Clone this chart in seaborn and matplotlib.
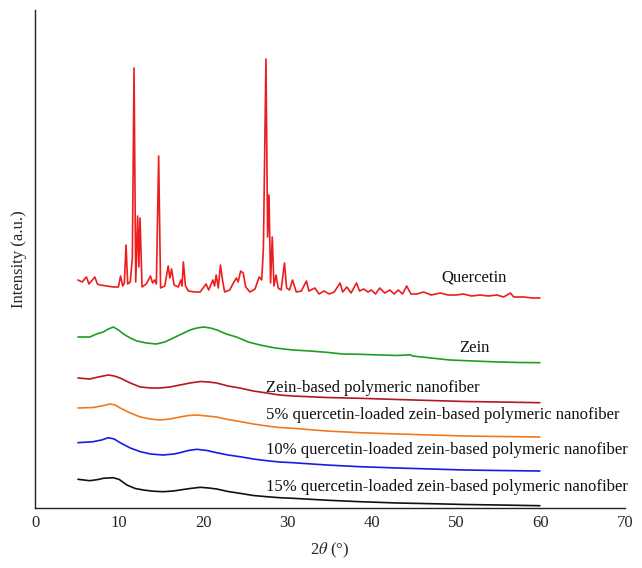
import numpy as np
import pandas as pd
import matplotlib
matplotlib.use("Agg")
import matplotlib.pyplot as plt
import seaborn as sns

# XRD patterns (2theta in degrees, intensity in arbitrary units)
quercetin_2t = [5.1, 5.6, 6.1, 6.4, 7.1, 7.4, 7.7, 8.5, 9.3, 9.9, 10.15, 10.4, 10.6, 10.8, 11.0,
                11.3, 11.55, 11.75, 11.95, 12.18, 12.32, 12.46, 12.7, 13.2, 13.7, 13.95, 14.2,
                14.4, 14.67, 14.9, 15.4, 15.8, 16.0, 16.2, 16.5, 17.0, 17.3, 17.45, 17.6, 17.85,
                18.2, 19.0, 19.6, 20.3, 20.6, 21.1, 21.3, 21.5, 21.75, 22.0, 22.25, 22.5, 23.1,
                23.6, 23.9, 24.1, 24.4, 24.7, 25.0, 25.5, 26.1, 26.6, 26.9, 27.1, 27.4, 27.6,
                27.76, 27.95, 28.15, 28.35, 28.6, 28.85, 29.2, 29.6, 29.85, 30.2, 30.55, 31.0,
                31.6, 32.2, 32.5, 33.2, 33.7, 34.3, 34.9, 35.5, 36.2, 36.5, 37.0, 37.5, 38.15,
                38.5, 39.0, 39.5, 39.9, 40.4, 40.9, 41.5, 42.1, 42.6, 43.1, 43.6, 44.1, 44.6,
                45.3, 46.1, 47.0, 48.1, 49.0, 50.0, 50.8, 51.8, 52.8, 53.8, 54.8, 55.6, 56.4,
                56.8, 58.0, 59.0, 59.9]
quercetin_i = [228, 226, 231, 224, 231, 224, 223, 222, 221, 221, 232, 222, 225, 263, 224,
               226, 250, 440, 226, 292, 241, 290, 221, 224, 232, 225, 228,
               224, 352, 220, 222, 242, 230, 239, 223, 221, 228, 222, 246, 222,
               217, 216, 216, 224, 218, 228, 222, 233, 220, 243, 228, 216, 218,
               226, 230, 226, 237, 235, 221, 216, 219, 231, 228, 260, 449, 271,
               313, 225, 271, 222, 233, 220, 218, 245, 220, 218, 228, 216,
               217, 227, 217, 220, 214, 217, 214, 216, 225, 216, 221, 215, 225,
               217, 219, 216, 218, 214, 220, 215, 218, 214, 218, 214, 222, 214,
               214, 216, 213, 215, 213, 213, 214, 212, 213, 212, 213, 211, 215,
               211, 211, 210, 210]

zein_2t = [5.1, 6.5, 7.3, 8.1, 8.7, 9.3, 9.9, 10.5, 11.3, 12.1, 13.2, 14.4, 15.4, 16.4, 17.4,
           18.4, 19.2, 20.0, 20.8, 21.6, 22.7, 23.9, 25.3, 26.7, 28.5, 30.6, 32.6, 34.6, 36.5,
           38.55, 41.0, 43.0, 44.5, 44.8, 47.0, 49.2, 52.0, 55.0, 57.5, 59.9]
zein_i = [171, 171, 174, 176, 179, 181, 178, 174, 170, 167, 165, 164, 166, 170, 174,
          178, 180, 181, 180, 178, 174, 171, 166, 163, 160, 158, 157, 155.7, 154,
          153.7, 153, 152.5, 153.2, 152, 150, 148, 147, 146, 145.5, 145.3]

fiber_2t = [5.1, 6.5, 7.5, 8.7, 9.4, 10.1, 11.3, 12.5, 13.7, 14.8, 16.0, 17.2, 18.4, 19.6, 20.6,
            21.55, 22.9, 24.3, 25.9, 27.5, 29.0, 30.6, 34.6, 38.55, 43.0, 47.0, 51.0, 55.0, 59.9]
fiber_i = [130, 129, 131, 133, 132, 130, 125, 121, 120, 120, 121, 123, 125, 126.5, 126,
           125, 122, 120, 117, 115, 113, 112, 110.5, 109.7, 108.5, 107.5, 106.5, 106, 105.3]

q5_2t = [5.1, 6.9, 7.9, 8.9, 9.5, 10.1, 11.3, 12.5, 13.7, 14.8, 16.0, 17.2, 18.2, 19.2, 20.4,
         21.55, 22.9, 24.3, 25.9, 27.5, 29.0, 30.6, 34.6, 38.55, 43.0, 47.0, 51.0, 55.0, 59.9]
q5_i = [100, 100.5, 102, 104, 103, 100, 95, 91, 89, 88, 89, 91, 92.5, 93, 92,
        91, 88.5, 86.5, 84, 82, 80.5, 79.7, 77, 75.3, 74, 73, 72, 71.5, 71]

q10_2t = [5.1, 6.9, 7.9, 8.7, 9.4, 10.1, 11.3, 12.5, 13.7, 15.2, 16.5, 17.2, 18.2, 19.2, 20.4,
          21.55, 22.9, 24.3, 25.9, 27.5, 29.0, 30.6, 34.6, 38.55, 43.0, 47.0, 51.0, 55.0, 59.9]
q10_i = [65.3, 66.3, 68, 70.3, 69, 65.3, 60, 56.3, 54, 53, 54, 55.3, 57.5, 58.7, 57.5,
         55.3, 53, 51.3, 49, 47.3, 46, 45.3, 43, 41.3, 40, 39, 38, 37.5, 37]

q15_2t = [5.1, 6.5, 7.5, 8.1, 9.3, 10.0, 10.9, 11.9, 12.85, 14.0, 15.2, 16.4, 17.2, 18.4, 19.6,
          20.6, 21.55, 22.9, 24.3, 25.9, 27.5, 29.0, 30.6, 34.6, 38.55, 43.0, 47.0, 51.0, 55.0, 59.9]
q15_i = [28.7, 27.3, 28.5, 29.7, 30.3, 28.5, 23, 19.5, 18, 16.8, 16.3, 17, 18, 19.5, 20.7,
         20, 19, 16.5, 14.7, 12.5, 11.3, 10.3, 9.7, 7.8, 6.3, 5, 4.3, 3.5, 3, 2.3]

names = ["Quercetin", "Zein", "Zein-based polymeric nanofiber",
         "5% quercetin-loaded zein-based polymeric nanofiber",
         "10% quercetin-loaded zein-based polymeric nanofiber",
         "15% quercetin-loaded zein-based polymeric nanofiber"]
colors = ["#ee1c1c", "#1e9e1e", "#b3191f", "#f27a1e", "#1a1ae6", "#111111"]
series = [(quercetin_2t, quercetin_i), (zein_2t, zein_i), (fiber_2t, fiber_i),
          (q5_2t, q5_i), (q10_2t, q10_i), (q15_2t, q15_i)]

# label anchors (2theta, intensity)
label_x = [48.2, 50.3, 27.4, 27.4, 27.4, 27.4]
label_y = [231, 160, 120, 93, 58, 21]

df = pd.concat([pd.DataFrame({"two_theta": x, "intensity": y, "sample": n})
                for (x, y), n in zip(series, names)], ignore_index=True)

sns.set_style("white")
plt.rcParams["font.family"] = ["Liberation Serif", "DejaVu Serif"]
plt.rcParams["mathtext.fontset"] = "stix"

fig = plt.figure(figsize=(6.42, 5.68), dpi=100)
ax = fig.add_axes([35 / 642, 60 / 568, 590 / 642, 498 / 568])

sns.lineplot(data=df, x="two_theta", y="intensity", hue="sample", hue_order=names,
             palette=dict(zip(names, colors)), estimator=None, sort=False,
             linewidth=1.2, legend=False, ax=ax)

for n, lx, ly in zip(names, label_x, label_y):
    ax.text(lx, ly, n, fontsize=12, va="center", ha="left", color="#111111")

ax.set_xlim(0, 70)
ax.set_ylim(0, 498)
ax.set_xticks(range(0, 71, 10))
ax.set_yticks([])
ax.tick_params(axis="x", length=0, labelsize=12, pad=5)
for s in ["top", "right"]:
    ax.spines[s].set_visible(False)
for s in ["left", "bottom"]:
    ax.spines[s].set_color("#222222")
    ax.spines[s].set_linewidth(1.0)
ax.set_xlabel(r"2$\theta$ (°)", fontsize=12, labelpad=7)
ax.set_ylabel("Intensity (a.u.)", fontsize=12, labelpad=6)

fig.savefig("out.png", dpi=100)
